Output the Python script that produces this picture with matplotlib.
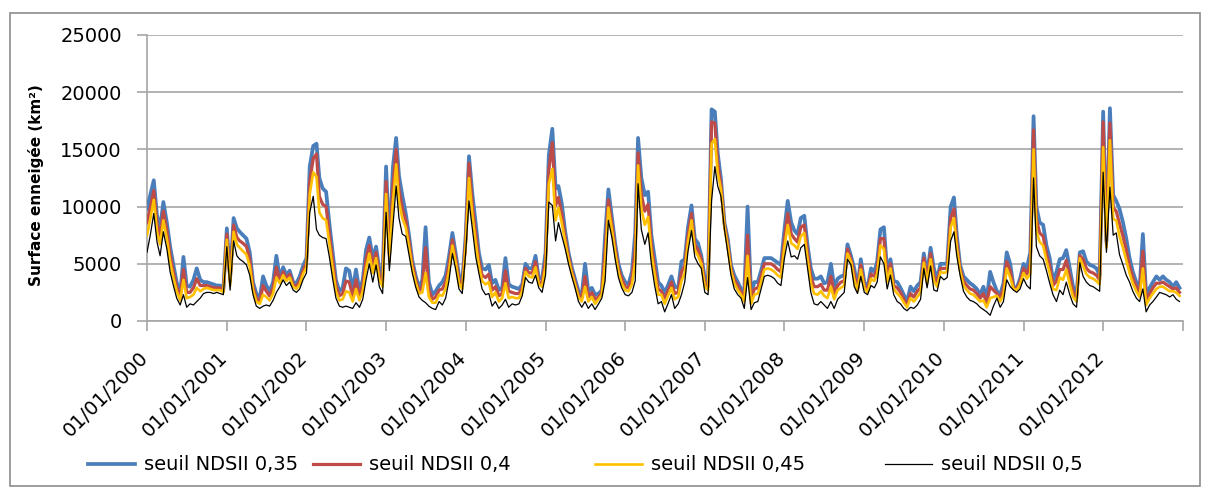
import numpy as np
import matplotlib
matplotlib.use("Agg")
import matplotlib.pyplot as plt
import matplotlib.dates as mdates
from matplotlib.patches import Rectangle
from matplotlib.transforms import ScaledTranslation

# ---------------- data (km², half-monthly: 1st and 16th of each month) ----------------
years = list(range(2000, 2013))

ndsii_035 = [
    9800, 11000, 12300, 9200, 8100, 10400, 8600, 6500, 4900, 3400, 2300, 5600, 3100, 3000, 3600, 4600, 3600, 3400, 3400, 3300, 3200, 3100, 3100, 2800,
    8100, 3800, 9000, 8100, 7800, 7500, 7200, 6000, 3400, 2400, 2000, 3900, 3100, 2600, 3400, 5700, 3700, 4700, 4000, 4400, 3400, 3300, 3900, 4800,
    5500, 13500, 15300, 15500, 12500, 11600, 11300, 8500, 6000, 3600, 2600, 2900, 4600, 4400, 2700, 4500, 2600, 3600, 6200, 7300, 5500, 6500, 4500, 4000,
    13500, 6500, 13400, 16000, 12700, 11000, 9400, 7500, 5300, 4000, 2900, 3600, 8200, 3400, 2300, 2600, 3100, 3400, 4000, 5600, 7700, 5900, 4000, 3400,
    7500, 14400, 11000, 8500, 6000, 4600, 4500, 4900, 3300, 3600, 2700, 2900, 5500, 3200, 3000, 2900, 2800, 3200, 5000, 4600, 4600, 5700, 3700, 3700,
    6000, 14500, 16800, 11600, 11800, 10300, 7800, 6000, 4700, 3700, 2600, 2300, 5000, 2600, 2900, 2300, 2400, 2700, 7500, 11500, 9100, 6800, 5000, 4000,
    3400, 3200, 4300, 7700, 16000, 12500, 11000, 11300, 7500, 5500, 3400, 3100, 2500, 3100, 3900, 3000, 2900, 5200, 5400, 8200, 10100, 7200, 6800, 5700,
    3700, 3400, 18500, 18300, 14700, 12400, 8600, 7200, 4900, 4000, 3400, 2800, 2600, 10000, 2300, 3400, 3400, 4400, 5500, 5500, 5500, 5300, 5100, 4900,
    8000, 10500, 8600, 7900, 7600, 9000, 9200, 6600, 4600, 3700, 3700, 3900, 3300, 3400, 5000, 3000, 3700, 3900, 4000, 6700, 5700, 4600, 2900, 5400,
    3400, 2900, 4600, 4300, 5200, 8000, 8200, 4300, 5400, 3500, 3400, 2900, 2300, 1700, 3000, 2600, 3100, 3400, 5900, 4000, 6400, 4600, 3600, 5000,
    5000, 5000, 10000, 10800, 7500, 4900, 3900, 3600, 3300, 3100, 2800, 2300, 3000, 1900, 4300, 3400, 2600, 2300, 3300, 6000, 5000, 3000, 2900, 3700,
    5000, 4600, 6000, 17900, 10000, 8600, 8400, 6600, 5500, 3500, 4300, 5400, 5500, 6200, 4600, 3000, 2300, 6000, 6100, 5200, 4900, 4800, 4600, 4000,
    18300, 7000, 18600, 11000, 10500, 9800, 8600, 7200, 5500, 4300, 3400, 2800, 7600, 2300, 2900, 3400, 3900, 3600, 3900, 3600, 3400, 3000, 3400, 2900,
]

ndsii_04 = [
    8600, 9900, 11400, 8500, 7300, 9600, 7900, 5800, 4300, 3000, 2000, 4500, 2500, 2500, 2900, 3700, 3100, 3100, 3100, 3000, 2900, 2900, 2900, 2600,
    7600, 3500, 8400, 7300, 7000, 6800, 6500, 5400, 3000, 2000, 1700, 3100, 2600, 2200, 2900, 4700, 3500, 4300, 3700, 4100, 3200, 3000, 3500, 4400,
    5100, 12200, 14200, 14600, 10900, 10200, 10000, 7600, 5300, 3100, 2200, 2400, 3500, 3400, 2200, 3600, 2200, 3100, 5400, 6600, 4800, 6000, 4000, 3500,
    12200, 5800, 11700, 15000, 11500, 9900, 8800, 7000, 5000, 3700, 2600, 3000, 6400, 2700, 1900, 2100, 2700, 2800, 3400, 4900, 7100, 5500, 3600, 3100,
    7000, 13800, 10000, 7600, 5400, 4000, 3800, 4100, 2700, 3000, 2200, 2400, 4400, 2600, 2500, 2400, 2400, 2900, 4600, 4200, 4200, 5200, 3400, 3300,
    5400, 13200, 15600, 10100, 10800, 9400, 7300, 5700, 4400, 3400, 2300, 2000, 3900, 2100, 2500, 1900, 2100, 2500, 6200, 10600, 8500, 6400, 4600, 3700,
    3000, 2900, 3700, 6400, 14700, 11100, 9600, 10200, 6700, 4700, 2800, 2600, 2000, 2600, 3400, 2400, 2500, 4300, 4800, 7500, 9400, 6700, 6200, 5400,
    3300, 3000, 17400, 17300, 13800, 11900, 8400, 6800, 4600, 3600, 3100, 2500, 2100, 7500, 1900, 2800, 2900, 3900, 5000, 5000, 5000, 4800, 4500, 4300,
    7200, 9400, 7600, 7200, 6900, 8200, 8400, 6000, 3900, 3000, 3000, 3200, 2700, 2700, 3900, 2400, 3100, 3400, 3500, 6300, 5400, 4100, 2700, 4900,
    3100, 2700, 4100, 3900, 4600, 7200, 7200, 3800, 5000, 3100, 2900, 2500, 1900, 1400, 2400, 2100, 2600, 2900, 5500, 3600, 5900, 4000, 3300, 4600,
    4600, 4600, 9000, 9800, 6900, 4600, 3500, 3100, 2800, 2700, 2400, 2000, 2400, 1600, 3000, 2700, 2400, 2000, 2800, 5200, 4400, 2900, 2800, 3400,
    4600, 4100, 5000, 16700, 8900, 7700, 7400, 5900, 4800, 3100, 3500, 4500, 4500, 5300, 3900, 2500, 2000, 5700, 5400, 4600, 4300, 4200, 4000, 3600,
    17400, 6700, 17300, 9900, 9600, 8500, 7400, 6200, 4800, 3800, 3000, 2500, 6100, 1800, 2400, 2900, 3300, 3300, 3400, 3200, 3000, 2800, 2900, 2500,
]

ndsii_045 = [
    7500, 8900, 10600, 7800, 6700, 8800, 7200, 5200, 3800, 2600, 1800, 3600, 2000, 2100, 2300, 2900, 2600, 2800, 2900, 2800, 2700, 2700, 2700, 2500,
    7100, 3100, 7800, 6700, 6400, 6100, 5800, 4800, 2700, 1700, 1500, 2300, 2100, 1800, 2400, 3800, 3300, 4000, 3500, 3800, 3000, 2800, 3200, 4100,
    4700, 11100, 13000, 12600, 9500, 9000, 8800, 6800, 4600, 2600, 1800, 1900, 2600, 2500, 1700, 2800, 1800, 2600, 4600, 5900, 4200, 5500, 3600, 3000,
    11100, 5200, 10300, 13700, 10500, 9000, 8200, 6500, 4600, 3400, 2400, 2500, 4200, 2100, 1600, 1600, 2300, 2200, 2800, 4300, 6600, 5100, 3300, 2800,
    6600, 12500, 9200, 6800, 4900, 3500, 3200, 3400, 2100, 2500, 1700, 2000, 3300, 2000, 2100, 2000, 2000, 2600, 4300, 3900, 3800, 4700, 3200, 3000,
    4800, 12000, 13300, 8800, 9900, 8600, 6900, 5400, 4200, 3200, 2100, 1700, 3000, 1700, 2100, 1500, 1900, 2300, 5100, 9900, 8000, 6000, 4300, 3300,
    2700, 2600, 3200, 5200, 13600, 9800, 8400, 9100, 6000, 4100, 2300, 2300, 1500, 2200, 2900, 1900, 2100, 3500, 4200, 6900, 8800, 6200, 5700, 5000,
    3000, 2700, 15500, 15900, 13000, 11500, 8200, 6500, 4400, 3300, 2700, 2300, 1700, 5700, 1500, 2300, 2400, 3400, 4500, 4600, 4500, 4300, 4000, 3800,
    6500, 8400, 6800, 6600, 6300, 7400, 7700, 5400, 3300, 2400, 2300, 2600, 2200, 2000, 3000, 1900, 2700, 2900, 3100, 5900, 5200, 3600, 2600, 4500,
    2900, 2500, 3700, 3500, 4100, 6600, 6300, 3400, 4600, 2800, 2400, 2100, 1600, 1200, 2000, 1700, 2100, 2500, 5100, 3300, 5400, 3500, 3000, 4300,
    4200, 4300, 8200, 9000, 6400, 4400, 3100, 2700, 2400, 2300, 2000, 1700, 1800, 1200, 2000, 2100, 2200, 1700, 2300, 4600, 3800, 2800, 2700, 3200,
    4200, 3700, 4100, 15000, 7900, 6900, 6600, 5300, 4200, 2800, 2700, 3800, 3600, 4500, 3200, 2100, 1700, 5500, 4800, 4100, 3800, 3700, 3500, 3200,
    15200, 6400, 15800, 8900, 8800, 7400, 6400, 5300, 4200, 3300, 2600, 2100, 4600, 1400, 2000, 2400, 2800, 3000, 3000, 2800, 2600, 2600, 2500, 2200,
]

ndsii_05 = [
    6000, 7500, 9400, 6900, 5700, 7800, 6300, 4300, 3100, 2000, 1400, 2300, 1200, 1500, 1400, 1700, 2000, 2400, 2500, 2500, 2400, 2500, 2400, 2300,
    6500, 2700, 7000, 5700, 5400, 5200, 4900, 4000, 2300, 1300, 1100, 1300, 1400, 1300, 1800, 2500, 3000, 3600, 3100, 3400, 2700, 2500, 2800, 3600,
    4200, 9500, 10900, 8000, 7500, 7300, 7200, 5600, 3700, 2000, 1300, 1200, 1300, 1200, 1100, 1600, 1200, 1900, 3600, 5000, 3400, 4900, 3000, 2400,
    9500, 4400, 8200, 11800, 9000, 7600, 7400, 5800, 4200, 3000, 2100, 1800, 1600, 1300, 1100, 1000, 1700, 1400, 2000, 3500, 5900, 4500, 2800, 2400,
    6000, 10500, 8000, 5600, 4200, 2800, 2300, 2400, 1300, 1700, 1100, 1400, 1900, 1200, 1500, 1400, 1500, 2200, 3800, 3400, 3300, 4000, 2900, 2500,
    4000, 10400, 10100, 7000, 8600, 7500, 6300, 5000, 3900, 2900, 1700, 1200, 1700, 1100, 1500, 1000, 1500, 2000, 3500, 8800, 7300, 5400, 3800, 2900,
    2300, 2200, 2500, 3500, 12000, 8000, 6700, 7700, 5000, 3100, 1500, 1700, 800, 1500, 2300, 1100, 1500, 2300, 3400, 6100, 7900, 5600, 5000, 4600,
    2500, 2300, 10500, 13500, 11800, 10900, 8000, 6000, 4000, 2800, 2300, 2000, 1100, 3800, 1000, 1600, 1700, 2800, 3900, 4000, 3900, 3700, 3300, 3100,
    5500, 7000, 5600, 5700, 5400, 6400, 6700, 4600, 2500, 1500, 1400, 1700, 1400, 1100, 1700, 1100, 1900, 2200, 2500, 5400, 4900, 3000, 2400, 3900,
    2500, 2300, 3100, 2900, 3400, 5600, 5000, 2800, 4000, 2300, 1700, 1500, 1100, 900, 1200, 1100, 1400, 1900, 4600, 2900, 4800, 2700, 2600, 3900,
    3600, 3800, 7000, 7800, 5700, 4000, 2600, 2100, 1800, 1700, 1500, 1200, 1000, 800, 500, 1300, 2000, 1200, 1700, 3600, 3000, 2700, 2500, 2800,
    3700, 3100, 2800, 12500, 6500, 5700, 5400, 4400, 3300, 2300, 1700, 2700, 2300, 3400, 2300, 1500, 1200, 5100, 3900, 3400, 3100, 3000, 2800, 2600,
    13000, 6000, 11700, 7500, 7700, 5800, 4900, 4000, 3400, 2600, 2000, 1700, 2800, 800, 1400, 1700, 2100, 2500, 2400, 2300, 2100, 2300, 1900, 1700,
]

series_labels = ["seuil NDSII 0,35", "seuil NDSII 0,4", "seuil NDSII 0,45", "seuil NDSII 0,5"]
tick_labels = ["01/01/%d" % y for y in years]

dates = np.array([np.datetime64("%d-%02d-%02d" % (y, m, d))
                  for y in years for m in range(1, 13) for d in (1, 16)])

# ---------------- figure ----------------
W, H = 1209, 491
fig = plt.figure(figsize=(W / 100, H / 100), dpi=100)
fig.patch.set_facecolor("white")
fig.add_artist(Rectangle((10 / W, 1 - 486 / H), 1190 / W, 473 / H,
                         transform=fig.transFigure, fill=False,
                         edgecolor="#8c8c8c", linewidth=1.2))

ax = fig.add_axes([147 / W, 1 - 321 / H, (1183 - 147) / W, (321 - 35) / H])

styles = [("#4a7ebb", 2.7), ("#be4b48", 2.3), ("#ffc000", 1.9), ("#000000", 0.9)]
series = [ndsii_035, ndsii_04, ndsii_045, ndsii_05]
handles = []
for vals, lab, (col, lw) in zip(series, series_labels, styles):
    h, = ax.plot(dates, vals, color=col, lw=lw, label=lab,
                 solid_joinstyle="round", zorder=3)
    handles.append(h)

grid_color = "#a6a6a6"
ax.set_xlim(np.datetime64("2000-01-01"), np.datetime64("2013-01-01"))
ax.set_ylim(0, 25000)
ax.set_yticks(range(0, 25001, 5000))
ax.yaxis.grid(True, color=grid_color, linewidth=1.2)
ax.set_axisbelow(True)
for s in ("top", "right"):
    ax.spines[s].set_visible(False)
for s in ("left", "bottom"):
    ax.spines[s].set_color(grid_color)
    ax.spines[s].set_linewidth(1.2)

xt = [np.datetime64("%d-01-01" % y) for y in years + [2013]]
ax.set_xticks(mdates.date2num(xt))
ax.set_xticklabels(tick_labels + [""])
ax.tick_params(axis="x", direction="out", length=7, width=1.2, color=grid_color,
               pad=17, labelsize=14)
ax.tick_params(axis="y", direction="out", length=7, width=1.2, color=grid_color,
               pad=11, labelsize=14)
offset = ScaledTranslation(-2 / 100, 0, fig.dpi_scale_trans)
for lab in ax.get_xticklabels():
    lab.set_rotation(45)
    lab.set_ha("right")
    lab.set_va("center")
    lab.set_rotation_mode("anchor")
    lab.set_transform(lab.get_transform() + offset)

ax.set_ylabel("Surface enneigée (km²)", fontsize=11, fontweight="bold")
ax.yaxis.set_label_coords(-0.099, 0.475)

# legend: one entry per slot, as in the original layout
legend_x = [88, 313, 595, 885]
for h, lab, x0 in zip(handles, series_labels, legend_x):
    leg = fig.legend([h], [lab], loc="center left", bbox_to_anchor=(x0 / W, 1 - 465 / H),
                     frameon=False, fontsize=14, handlelength=2.4,
                     handletextpad=0.5, borderpad=0, borderaxespad=0)

fig.savefig("out.png", dpi=100)
